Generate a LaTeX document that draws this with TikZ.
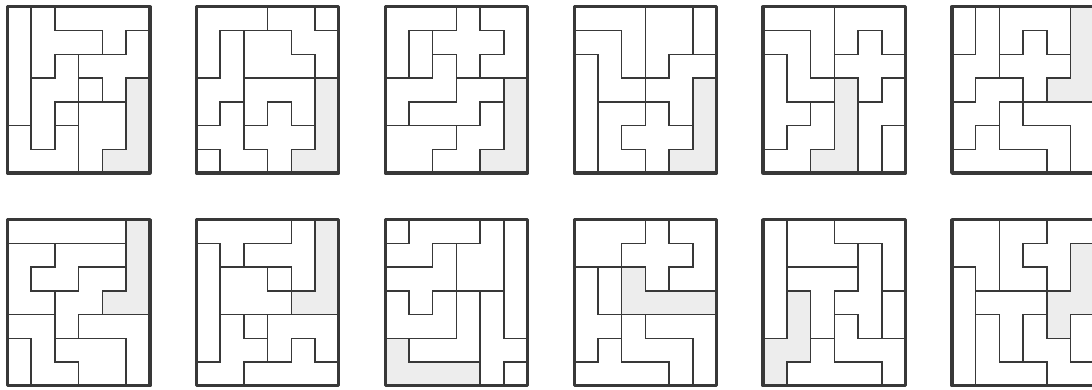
\documentclass[tikz,border=0pt]{standalone}
\definecolor{pzline}{HTML}{383838}
\definecolor{pzfill}{HTML}{EDEDED}
\newcommand\pzu{23.75pt}
\tikzset{
  pzinner/.style={draw=pzline, line width=1.5pt, line cap=rect},
  pzouter/.style={draw=pzline, line width=3.2pt, line join=round},
  pzshade/.style={fill=pzfill},
}
\ExplSyntaxOn
\tl_new:N \l_pz_ra_tl
\tl_new:N \l_pz_rb_tl
\seq_new:N \l_pz_rows_seq
\NewDocumentCommand \pzgrid { m m m m m m m m m }
  {
    \seq_set_split:Nnn \l_pz_rows_seq { , } { #3 , #4 , #5 , #6 , #7 , #8 , #9 }
    \begin{scope}[shift={(#1,#2)}, x=\pzu, y=-\pzu]
      \int_step_variable:nnNn { 1 } { 7 } \l_pz_i_tl
        {
          \tl_set:Nx \l_pz_ra_tl { \seq_item:Nn \l_pz_rows_seq { \l_pz_i_tl } }
          \int_step_variable:nnNn { 1 } { 6 } \l_pz_j_tl
            {
              \str_if_eq:eeT { \tl_item:Nn \l_pz_ra_tl { \l_pz_j_tl } } { s }
                { \path[pzshade] (\l_pz_j_tl-1,\l_pz_i_tl-1) rectangle (\l_pz_j_tl,\l_pz_i_tl); }
            }
        }
      \int_step_variable:nnNn { 1 } { 7 } \l_pz_i_tl
        {
          \tl_set:Nx \l_pz_ra_tl { \seq_item:Nn \l_pz_rows_seq { \l_pz_i_tl } }
          \int_step_variable:nnNn { 1 } { 5 } \l_pz_j_tl
            {
              \str_if_eq:eeF { \tl_item:Nn \l_pz_ra_tl { \l_pz_j_tl } } { \tl_item:Nn \l_pz_ra_tl { \l_pz_j_tl + 1 } }
                { \draw[pzinner] (\l_pz_j_tl,\l_pz_i_tl-1) -- (\l_pz_j_tl,\l_pz_i_tl); }
            }
        }
      \int_step_variable:nnNn { 1 } { 6 } \l_pz_i_tl
        {
          \tl_set:Nx \l_pz_ra_tl { \seq_item:Nn \l_pz_rows_seq { \l_pz_i_tl } }
          \tl_set:Nx \l_pz_rb_tl { \seq_item:Nn \l_pz_rows_seq { \l_pz_i_tl + 1 } }
          \int_step_variable:nnNn { 1 } { 6 } \l_pz_j_tl
            {
              \str_if_eq:eeF { \tl_item:Nn \l_pz_ra_tl { \l_pz_j_tl } } { \tl_item:Nn \l_pz_rb_tl { \l_pz_j_tl } }
                { \draw[pzinner] (\l_pz_j_tl-1,\l_pz_i_tl) -- (\l_pz_j_tl,\l_pz_i_tl); }
            }
        }
      \draw[pzouter] (0,0) rectangle (6,7);
    \end{scope}
  }
\ExplSyntaxOff
\begin{document}
\begin{tikzpicture}[x=1pt,y=-1pt]
\useasboundingbox (0,0) rectangle (1092,390);
\fill[white] (0,0) rectangle (1092,390);
\clip (0,0) rectangle (1092,390);
% row 1
\pzgrid{7.4}{6.8}{abcccc}{abbbce}{abfeee}{affmes}{afnpps}{gfgpps}{gggpss}
\pzgrid{196.3}{6.8}{aaabbc}{adeebb}{adeeeb}{ddfffs}{dhfgfs}{hhgggs}{ihhgss}
\pzgrid{385.2}{6.8}{aaaxuu}{adxxxu}{adzxuu}{zzzmms}{zmmmws}{pppwws}{ppwwss}
\pzgrid{574.1}{6.8}{vvvppd}{zzvppd}{izvpff}{izzffs}{iuuxfs}{iuxxxs}{iuuxss}
\pzgrid{763.0}{6.8}{vvvuuu}{zzvuxu}{yzvxxx}{yzzsxn}{yywsnn}{ywwsnd}{wwssnd}
\pzgrid{951.9}{6.8}{dauuus}{dauxus}{aaxxxs}{awwxss}{wwzvvv}{wyzzzv}{yyyyzv}
% row 2
\pzgrid{7.4}{219.6}{iiiiis}{uunnns}{unnwws}{uuwwss}{zzwvvv}{dzpppv}{dzzppv}
\pzgrid{196.3}{219.6}{yyyyas}{iyaaas}{ippmas}{ipppss}{ifnuuu}{iffutu}{fftttt}
\pzgrid{385.2}{219.6}{mnnnpi}{nnfppi}{fffppi}{ufuvyi}{uuuvyi}{svvvyy}{ssssyo}
\pzgrid{574.1}{219.6}{pppxuu}{ppxxxu}{ydsxuu}{ydssss}{yyzvvv}{ybzzzv}{bbbbzv}
\pzgrid{763.0}{219.6}{ippvvv}{ipppyv}{itttyv}{istyyd}{istzyd}{ssqzzz}{sqqqqz}
\pzgrid{951.9}{219.6}{ppuuff}{ppuffs}{ipuufs}{itttss}{ivtwsd}{ivtwwd}{ivvvww}
\end{tikzpicture}
\end{document}
